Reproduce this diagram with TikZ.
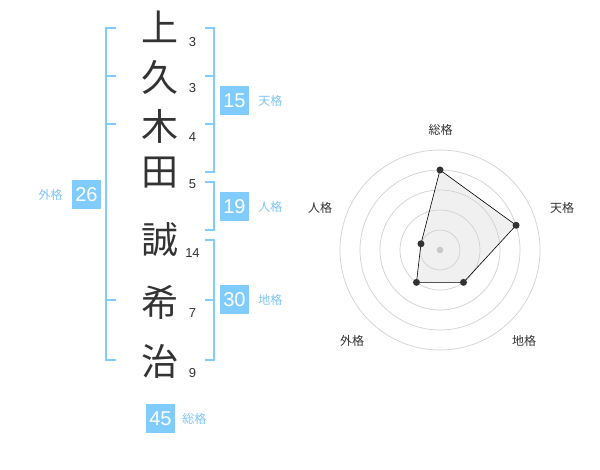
\documentclass[tikz,border=0pt]{standalone}
\usepackage{fontspec}
\setmainfont{Liberation Sans}
\newfontfamily\jpfont{Noto Sans CJK JP}
\usetikzlibrary{positioning}
\definecolor{kakuBlue}{HTML}{80CCFF}
\definecolor{kakuText}{HTML}{7EC6F5}
\definecolor{inkGray}{HTML}{333333}
\tikzset{kanji/.style={font=\jpfont\fontsize{37}{37}\selectfont,text=inkGray,inner sep=0pt},
         strokes/.style={font=\fontsize{13}{13}\selectfont,text=inkGray,inner sep=0pt},
         brk/.style={kakuBlue,line width=2pt},
         kaku/.style={fill=kakuBlue,text=white,minimum size=29pt,inner sep=0pt,
                      font=\fontsize{20}{20}\selectfont},
         kakulabel/.style={text=kakuText,font=\jpfont\fontsize{12}{12}\selectfont,inner sep=0pt},
         ring/.style={draw=black!18,line width=.7pt},
         axislabel/.style={text=inkGray,font=\jpfont\fontsize{12}{12}\selectfont,inner sep=0pt},
         vtx/.style={circle,fill=inkGray,inner sep=0pt,minimum size=7pt}}
\begin{document}
\begin{tikzpicture}[x=1pt,y=1pt]
  \fill[white] (0,0) rectangle (600,470);
  \useasboundingbox (0,0) rectangle (600,470);
  % name, one character per row
  \node[kanji] (c1) at (159.5,443) {上};
  \node[kanji] (c2) at (159.5,392) {久};
  \node[kanji] (c3) at (159.5,344) {木};
  \node[kanji] (c4) at (159.5,297.5) {田};
  \node[kanji] (c5) at (159.5,230) {誠};
  \node[kanji] (c6) at (159.5,168) {希};
  \node[kanji] (c7) at (159.5,109) {治};
  \node[strokes] (s1) at (192.5,428) {3};
  \node[strokes] (s2) at (192.5,382) {3};
  \node[strokes] (s3) at (192.5,333) {4};
  \node[strokes] (s4) at (192.5,286) {5};
  \node[strokes] (s5) at (192.5,217) {14};
  \node[strokes] (s6) at (192.5,157) {7};
  \node[strokes] (s7) at (192.5,97) {9};
  % brackets
  \draw[brk] (116,442)--(106,442)--(106,110)--(116,110);
  \foreach \y in {394,346,170} \draw[brk] (106,\y)--(116,\y);
  \draw[brk] (205,442)--(214,442)--(214,298)--(205,298);
  \foreach \y in {394,346} \draw[brk] (205,\y)--(214,\y);
  \draw[brk] (205,288)--(214,288)--(214,240)--(205,240);
  \draw[brk] (205,230)--(214,230)--(214,110)--(205,110);
  \draw[brk] (205,170)--(214,170);
  % scores
  \node[kaku] (ten) at (234.5,369.5) {15};
  \node[kakulabel,right=9pt of ten] {天格};
  \node[kaku] (jin) at (234.5,263.5) {19};
  \node[kakulabel,right=9pt of jin] {人格};
  \node[kaku] (chi) at (234.5,170) {30};
  \node[kakulabel,right=9pt of chi] {地格};
  \node[kaku] (gai) at (86.5,275.5) {26};
  \node[kakulabel,left=9pt of gai] {外格};
  \node[kaku] (sou) at (160.5,51) {45};
  \node[kakulabel,right=7pt of sou] {総格};
  % radar
  \begin{scope}[shift={(440,220)}]
    \coordinate (pSou) at (90:80);
    \coordinate (pTen) at (18:80);
    \coordinate (pChi) at (-54:40);
    \coordinate (pGai) at (-126:40);
    \coordinate (pJin) at (162:20);
    \fill[black!6] (pSou)--(pTen)--(pChi)--(pGai)--(pJin)--cycle;
    \foreach \r in {20,40,60,80,100} \draw[ring] (0,0) circle (\r);
    \fill[black!22] (0,0) circle (3.3);
    \draw[line width=.6pt] (pSou)--(pTen)--(pChi)--(pGai)--(pJin)--cycle;
    \foreach \p in {pSou,pTen,pChi,pGai,pJin} \node[vtx] at (\p) {};
    \node[axislabel] (lSou) at (0.5,120) {総格};
    \node[axislabel] (lTen) at (122,42) {天格};
    \node[axislabel] (lChi) at (84,-91) {地格};
    \node[axislabel] (lGai) at (-88,-91) {外格};
    \node[axislabel] (lJin) at (-120,42) {人格};
  \end{scope}
\end{tikzpicture}
\end{document}
